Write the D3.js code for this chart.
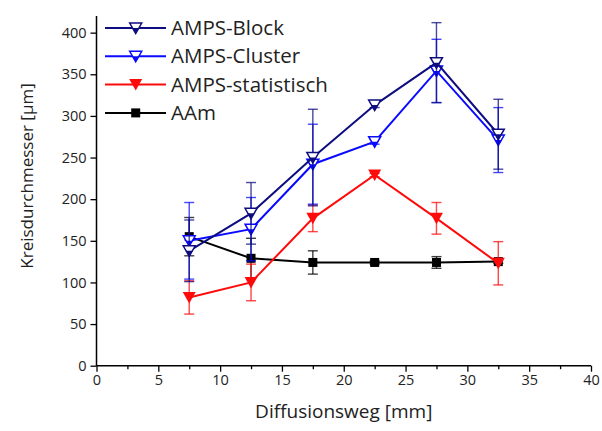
<!DOCTYPE html>
<html><head><meta charset="utf-8">
<script src="https://cdn.jsdelivr.net/npm/d3@7"></script>
<style>body{margin:0;background:#fff}svg{display:block}text{font-family:"Open Sans",sans-serif;fill:#222}</style>
</head><body><svg id="c" width="602" height="431"></svg>
<script>
const xVals = [7.5, 12.5, 17.5, 22.5, 27.5, 32.5];
const blockVals = [138, 183, 250, 313, 364, 278];
const blockErr  = [37, 37, 58, 3, 48, 42];
const clusterVals = [150, 164, 242, 269, 354, 271];
const clusterErr  = [46, 38, 48, 3, 38, 39];
const statVals = [82, 100, 177, 229, 177, 123];
const statErr  = [20, 22, 16, 2, 19, 26];
const aamVals = [155, 129, 124, 124, 124, 125];
const aamErr  = [23, 24, 14, 2, 7, 2];
const seriesNames = ["AMPS-Block", "AMPS-Cluster", "AMPS-statistisch", "AAm"];
const xTicks = [0,5,10,15,20,25,30,35,40];
const yTicks = [0,50,100,150,200,250,300,350,400];

const svg = d3.select("#c");
const x = d3.scaleLinear().domain([0,40]).range([96.5,591]);
const y = d3.scaleLinear().domain([0,420]).range([365.7,16]);

const series = [
  {name:seriesNames[0], v:blockVals, e:blockErr, color:"#0d0d80", marker:"halftri"},
  {name:seriesNames[1], v:clusterVals, e:clusterErr, color:"#0a0aff", marker:"halftri"},
  {name:seriesNames[2], v:statVals, e:statErr, color:"#ff0a0a", marker:"tri"},
  {name:seriesNames[3], v:aamVals, e:aamErr, color:"#000", marker:"sq"}
];

// axes
const gx = svg.append("g").attr("transform",`translate(0,${y(0)})`);
gx.call(d3.axisBottom(x).tickValues(xTicks).tickSize(6).tickPadding(3).tickFormat(d3.format("d")));
gx.append("g").call(d3.axisBottom(x).tickValues(d3.range(2.5,40,5)).tickSize(3.5).tickFormat(""));
const gy = svg.append("g").attr("transform",`translate(${x(0)},0)`);
gy.call(d3.axisLeft(y).tickValues(yTicks).tickSize(6).tickPadding(4).tickFormat(d3.format("d")));
svg.selectAll(".domain").attr("stroke","#000").attr("stroke-width",1.5);
svg.selectAll(".tick line").attr("stroke","#000").attr("stroke-width",1.3);
svg.selectAll(".tick text").style("font-size","14.5px").attr("fill","#222").style("font-family","'Open Sans',sans-serif");
gy.select(".domain").attr("d",`M0,${y(0)}V${y(420)}`);
gx.select(".domain").attr("d",`M${x(0)},0H${x(40)}`);
gx.selectAll("g > .domain").filter(function(){return this.parentNode!==gx.node();}).remove();

svg.append("text").attr("x",(x(0)+x(40))/2).attr("y",418).attr("text-anchor","middle")
  .style("font-size","19px").text("Diffusionsweg [mm]");
svg.append("text").attr("transform","translate(33,176) rotate(-90)").attr("text-anchor","middle")
  .style("font-size","17px").text("Kreisdurchmesser [µm]");

function drawMarker(g, type, color, cx, cy, s){
  if(type==="sq"){
    g.append("rect").attr("x",cx-4.5).attr("y",cy-4.5).attr("width",9).attr("height",9).attr("fill",color);
  } else if(type==="tri"){
    g.append("path").attr("d",`M${cx-6.5},${cy-5.5}L${cx+6.5},${cy-5.5}L${cx},${cy+6}Z`).attr("fill",color);
  } else {
    g.append("path").attr("d",`M${cx-6},${cy-5}L${cx+6},${cy-5}L${cx},${cy+5.5}Z`).attr("fill","#fff").attr("stroke",color).attr("stroke-width",1.5);
    g.append("path").attr("d",`M${cx-3.6},${cy}L${cx+3.6},${cy}L${cx},${cy+5.5}Z`).attr("fill",color);
  }
}

const line = d3.line().x((d,i)=>x(xVals[i])).y(d=>y(d));
const plot = svg.append("g");
[3,2,1,0].forEach(k=>{
  const s = series[k];
  const g = plot.append("g");
  s.v.forEach((v,i)=>{
    const cx = x(xVals[i]);
    const e = s.e[i];
    g.append("line").attr("x1",cx).attr("x2",cx).attr("y1",y(v-e)).attr("y2",y(v+e)).attr("stroke",s.color).attr("stroke-width",1.4).attr("opacity",0.75);
    [v-e,v+e].forEach(t=>{
      g.append("line").attr("x1",cx-5).attr("x2",cx+5).attr("y1",y(t)).attr("y2",y(t)).attr("stroke",s.color).attr("stroke-width",1.4).attr("opacity",0.75);
    });
  });
  g.append("path").datum(s.v).attr("d",line).attr("fill","none").attr("stroke",s.color).attr("stroke-width",2);
  s.v.forEach((v,i)=>drawMarker(g,s.marker,s.color,x(xVals[i]),y(v)));
});

// legend
const lg = svg.append("g");
series.forEach((s,i)=>{
  const ly = 28 + i*28.3;
  lg.append("line").attr("x1",105).attr("x2",166).attr("y1",ly).attr("y2",ly).attr("stroke",s.color).attr("stroke-width",2);
  drawMarker(lg,s.marker,s.color,135.7,ly);
  lg.append("text").attr("x",171).attr("y",ly+7).style("font-size","20.5px").text(s.name);
});
</script></body></html>
